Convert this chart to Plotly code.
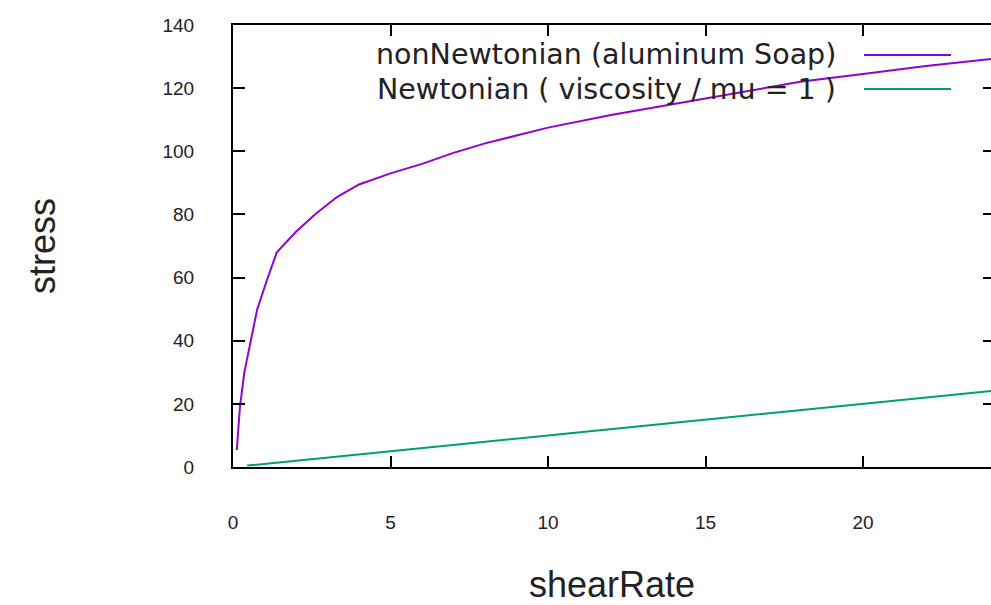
import plotly.graph_objects as go

# Data
shear_non = [0.12, 0.22, 0.36, 0.54, 0.77, 1.07, 1.39, 2.0, 2.6, 3.3, 4.0, 5.0, 6.0, 7.0, 8.0,
             9.0, 10.0, 12.0, 14.0, 16.0, 18.0, 20.0, 22.0, 24.3]
stress_non = [5.4, 19.0, 30.0, 39.0, 50.0, 59.0, 68.0, 74.5, 80.0, 85.5, 89.5, 93.0, 96.0, 99.5,
              102.5, 105.0, 107.5, 111.5, 115.0, 118.5, 122.0, 124.5, 127.0, 129.5]
shear_newt = [0.45, 5.0, 10.0, 15.0, 20.0, 24.3]
stress_newt = [0.45, 5.0, 10.0, 15.0, 20.0, 24.3]

names = ["nonNewtonian (aluminum Soap)", "Newtonian ( viscosity / mu = 1 )"]
colors = ["#9400d3", "#009e73"]
x_ticks = [0, 5, 10, 15, 20]
y_ticks = [0, 20, 40, 60, 80, 100, 120, 140]

W, H = 991, 605
L, R, T, B = 233, 0, 25, 138
px_per_x = 31.5
x_max = (W - L - R) / px_per_x

fig = go.Figure()
fig.add_trace(go.Scatter(x=shear_non, y=stress_non, mode="lines",
                         line=dict(color=colors[0], width=2), name=names[0],
                         showlegend=False))
fig.add_trace(go.Scatter(x=shear_newt, y=stress_newt, mode="lines",
                         line=dict(color=colors[1], width=2), name=names[1],
                         showlegend=False))
# invisible helper trace for the mirrored right-hand ticks
fig.add_trace(go.Scatter(x=[shear_newt[0]], y=[stress_newt[0]], yaxis="y2", mode="markers",
                         marker=dict(opacity=0), hoverinfo="skip", showlegend=False))

tick_font = dict(family="Liberation Sans, Arial, sans-serif", size=19, color="#222")
title_font = dict(family="Liberation Sans, Arial, sans-serif", size=36, color="#222")

fig.update_layout(
    width=W, height=H,
    margin=dict(l=L, r=R, t=T, b=B, autoexpand=False),
    paper_bgcolor="white", plot_bgcolor="white",
    xaxis=dict(range=[0, x_max], tickvals=x_ticks, ticks="inside", ticklen=11,
               tickwidth=2, tickcolor="black", showline=True, linecolor="black",
               linewidth=2, mirror="ticks", showgrid=False, zeroline=False,
               tickfont=tick_font, ticklabelstandoff=37,
               title=dict(text="shearRate", font=title_font, standoff=46)),
    yaxis=dict(range=[0, 140], tickvals=y_ticks, ticks="inside", ticklen=12,
               tickwidth=2, tickcolor="black", showline=True, linecolor="black",
               linewidth=2, showgrid=False, zeroline=False,
               tickfont=tick_font, ticklabelstandoff=33,
               title=dict(text="stress", font=title_font, standoff=96)),
    yaxis2=dict(range=[0, 140], tickvals=y_ticks, overlaying="y", side="right",
                ticks="inside", ticklen=8, tickwidth=2, tickcolor="black",
                showline=False, showgrid=False, zeroline=False, showticklabels=False),
)

legend_font = dict(family="DejaVu Sans, Verdana, sans-serif", size=28.5, color="#222")
leg_y = [55, 89]
for i in range(2):
    yp = 1 - (leg_y[i] - T) / (H - T - B)
    fig.add_annotation(xref="paper", yref="paper", x=(838 - L) / (W - L - R), y=yp,
                       text=names[i], showarrow=False, xanchor="right", yanchor="middle",
                       font=legend_font)
    fig.add_shape(type="line", xref="paper", yref="paper",
                  x0=(864 - L) / (W - L - R), x1=(951 - L) / (W - L - R), y0=yp, y1=yp,
                  line=dict(color=colors[i], width=2))

fig.write_html("out.html")
